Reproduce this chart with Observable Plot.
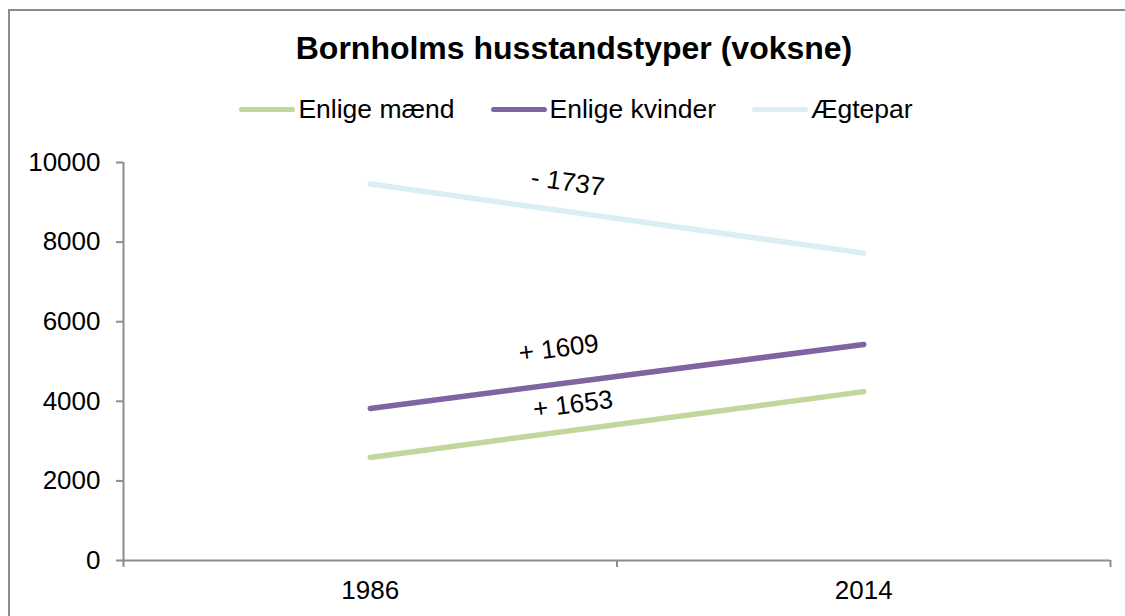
<!DOCTYPE html>
<html><head><meta charset="utf-8">
<script src="https://cdn.jsdelivr.net/npm/d3@7"></script>
<script src="https://cdn.jsdelivr.net/npm/@observablehq/plot@0.6"></script>
<style>
body{margin:0;width:1125px;height:616px;overflow:hidden;background:#fff;font-family:"Liberation Sans",Arial,sans-serif;position:relative}
#frame{position:absolute;left:8px;top:9px;width:1200px;height:700px;border-left:2px solid #8c8c8c;border-top:2px solid #8c8c8c}
#title{position:absolute;left:0;width:1148px;top:30px;text-align:center;font-weight:bold;font-size:32px;line-height:36px;color:#000}
#legend{position:absolute;left:0;width:1152px;top:94px;display:flex;justify-content:center;font-size:26.5px;line-height:30px;color:#000}
.item{display:flex;align-items:center;margin:0 18px}
.sw{width:56px;height:5px;border-radius:3px;margin-right:3px}
#chart{position:absolute;left:0;top:140px}
</style>
</head><body>
<div id="frame"></div>
<div id="title">Bornholms husstandstyper (voksne)</div>
<div id="legend"></div>
<div id="chart"></div>
<script>
// ---- data ----
const years = [1986, 2014];
const series = ["Enlige mænd", "Enlige kvinder", "Ægtepar"];
const enligeMaend = [2590, 4243];
const enligeKvinder = [3820, 5429];
const aegtepar = [9460, 7723];
const seriesColors = ["#c3d69b", "#8064a2", "#daeef3"];
const yTicks = [0, 2000, 4000, 6000, 8000, 10000];
const categoryBounds = [1972, 2000, 2028];
// change-label anchors (data units) and tilt
const annoYear = [1997.5, 1996.7, 1997.2];
const annoValue = [3920, 5327, 9497];
const annoAngle = [-7.5, -7.3, 8];

const values = [enligeMaend, enligeKvinder, aegtepar];
const rows = [];
series.forEach((s, i) => years.forEach((yr, j) => rows.push({series: s, year: yr, value: values[i][j]})));
const annos = series.map((s, i) => {
  const d = values[i][1] - values[i][0];
  return {series: s, year: annoYear[i], value: annoValue[i], angle: annoAngle[i],
          label: (d >= 0 ? "+ " : "- ") + Math.abs(d)};
});

// legend
const legend = document.getElementById("legend");
series.forEach((s, i) => {
  const it = document.createElement("div"); it.className = "item";
  const sw = document.createElement("div"); sw.className = "sw"; sw.style.background = seriesColors[i];
  const tx = document.createElement("span"); tx.textContent = s;
  it.appendChild(sw); it.appendChild(tx); legend.appendChild(it);
});

const gray = "#8c8c8c";
const chart = Plot.plot({
  width: 1125, height: 476,
  marginLeft: 123, marginRight: 15, marginTop: 22, marginBottom: 56,
  style: {fontFamily: "'Liberation Sans', Arial, sans-serif", fontSize: "26px", color: "#000", background: "transparent", overflow: "visible"},
  x: {domain: [categoryBounds[0], categoryBounds[2]]},
  y: {domain: [0, 10000]},
  color: {domain: series, range: seriesColors},
  marks: [
    Plot.axisY({ticks: yTicks, tickSize: 7, tickPadding: 16, stroke: gray, strokeWidth: 2, tickFormat: d => String(d), fill: "#000", label: null}),
    Plot.axisX({ticks: categoryBounds, tickSize: 7, stroke: gray, strokeWidth: 2, tickFormat: () => "", label: null}),
    Plot.axisX({ticks: years, tickSize: 0, tickPadding: 20, tickFormat: d => String(d), fill: "#000", label: null}),
    Plot.ruleX([categoryBounds[0]], {y1: 0, y2: 10000, stroke: gray, strokeWidth: 2}),
    Plot.ruleY([0], {x1: categoryBounds[0], x2: categoryBounds[2], stroke: gray, strokeWidth: 2}),
    Plot.line(rows, {x: "year", y: "value", z: "series", stroke: "series", strokeWidth: 5.5, strokeLinecap: "round"}),
    Plot.text(annos, {x: "year", y: "value", text: "label", rotate: "angle", fontSize: 26, fill: "#000"})
  ]
});
document.getElementById("chart").appendChild(chart);
</script>
</body></html>
